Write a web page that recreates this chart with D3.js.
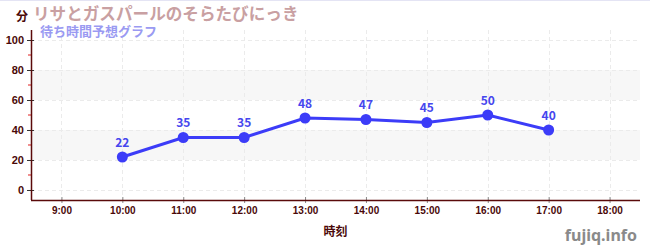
<!DOCTYPE html>
<html>
<head>
<meta charset="utf-8">
<script src="https://cdn.jsdelivr.net/npm/d3@7"></script>
<style>
  body { margin: 0; background: #fff; }
  svg { display: block; font-family: "Noto Sans CJK JP", "Noto Sans", sans-serif; }
</style>
</head>
<body>
<div id="chart"></div>
<script>
// wait-time forecast, one point per hour
const hours = [10, 11, 12, 13, 14, 15, 16, 17];
const waits = [22, 35, 35, 48, 47, 45, 50, 40];
const hourTicks = [9, 10, 11, 12, 13, 14, 15, 16, 17, 18];
const yTicks = [0, 20, 40, 60, 80, 100];
const yMinorTicks = [10, 30, 50, 70, 90];
const bands = [[20, 40], [60, 80]];

const width = 650;
const height = 250;
const margin = { top: 30, right: 10, bottom: 50, left: 31 };

const svg = d3.select("#chart").append("svg")
  .attr("width", width)
  .attr("height", height);

const x = d3.scaleLinear()
  .domain([8.5, 18.5])
  .range([margin.left, width - margin.right]);

const y = d3.scaleLinear()
  .domain([-6.67, 106.67])
  .range([height - margin.bottom, margin.top]);

// thin top border
svg.append("line")
  .attr("x1", 0).attr("x2", width).attr("y1", 0.5).attr("y2", 0.5)
  .attr("stroke", "#e4e4f4");

// shaded bands
svg.append("g").selectAll("rect")
  .data(bands)
  .join("rect")
  .attr("x", margin.left)
  .attr("width", width - margin.right - margin.left)
  .attr("y", (d) => y(d[1]))
  .attr("height", (d) => y(d[0]) - y(d[1]))
  .attr("fill", "#f7f7f7");

// dashed grid
const grid = svg.append("g")
  .attr("stroke", "#ebebeb")
  .attr("stroke-dasharray", "4,3");
grid.selectAll(".gy")
  .data(yTicks)
  .join("line")
  .attr("x1", margin.left).attr("x2", width - margin.right)
  .attr("y1", (d) => y(d) + 0.5).attr("y2", (d) => y(d) + 0.5);
grid.selectAll(".gx")
  .data(hourTicks)
  .join("line")
  .attr("x1", (d) => Math.round(x(d)) + 0.5).attr("x2", (d) => Math.round(x(d)) + 0.5)
  .attr("y1", margin.top).attr("y2", height - margin.bottom);

const axisColor = "#5a0a0a";
const labelColor = "#4a0808";

// y axis
const yAxis = svg.append("g")
  .attr("transform", `translate(${margin.left},0)`)
  .call(d3.axisLeft(y).tickValues(yTicks).tickSize(4).tickPadding(3))
  .call((g) => g.select(".domain").remove());
yAxis.selectAll(".tick line").attr("stroke", "#333").attr("x2", 3).attr("x1", -4);
yAxis.selectAll(".tick text")
  .attr("fill", labelColor)
  .attr("font-size", 11)
  .attr("font-weight", "bold");

svg.append("g")
  .selectAll("line")
  .data(yMinorTicks)
  .join("line")
  .attr("x1", margin.left - 3).attr("x2", margin.left)
  .attr("y1", (d) => y(d)).attr("y2", (d) => y(d))
  .attr("stroke", "#e02020");

// x axis
const xAxis = svg.append("g")
  .attr("transform", `translate(0,${height - margin.bottom})`)
  .call(d3.axisBottom(x).tickValues(hourTicks).tickSize(0).tickPadding(7)
    .tickFormat((d) => `${d}:00`))
  .call((g) => g.select(".domain").remove());
xAxis.selectAll(".tick text")
  .attr("fill", labelColor)
  .attr("font-size", 10)
  .attr("font-weight", "bold");
xAxis.selectAll(".tick").append("line")
  .attr("y1", -3).attr("y2", 3)
  .attr("stroke", "#888");

// axis lines
svg.append("line")
  .attr("x1", margin.left + 0.5).attr("x2", margin.left + 0.5)
  .attr("y1", margin.top).attr("y2", height - margin.bottom)
  .attr("stroke", axisColor).attr("stroke-width", 1.5);
svg.append("line")
  .attr("x1", margin.left).attr("x2", width - margin.right)
  .attr("y1", height - margin.bottom + 0.5).attr("y2", height - margin.bottom + 0.5)
  .attr("stroke", axisColor).attr("stroke-width", 1.5);

// series
const points = hours.map((h, i) => ({ h, v: waits[i] }));
const lineColor = "#3c3cf8";

svg.append("path")
  .datum(points)
  .attr("fill", "none")
  .attr("stroke", lineColor)
  .attr("stroke-width", 3)
  .attr("d", d3.line().x((d) => x(d.h)).y((d) => y(d.v)));

svg.append("g").selectAll("circle")
  .data(points)
  .join("circle")
  .attr("cx", (d) => x(d.h))
  .attr("cy", (d) => y(d.v))
  .attr("r", 5.5)
  .attr("fill", lineColor);

svg.append("g").selectAll("text")
  .data(points)
  .join("text")
  .attr("x", (d) => x(d.h))
  .attr("y", (d) => y(d.v) - 10)
  .attr("text-anchor", "middle")
  .attr("fill", "#4646ee")
  .attr("font-size", 12)
  .attr("font-weight", "bold")
  .text((d) => d.v);

// titles and labels
svg.append("text")
  .attr("x", 33).attr("y", 20)
  .attr("fill", "#c9a0a2")
  .attr("font-size", 16.6)
  .attr("font-weight", "bold")
  .text("リサとガスパールのそらたびにっき");

svg.append("text")
  .attr("x", 40).attr("y", 36)
  .attr("fill", "#9a9af2")
  .attr("font-size", 13)
  .attr("font-weight", "bold")
  .text("待ち時間予想グラフ");

svg.append("text")
  .attr("x", 22).attr("y", 21)
  .attr("text-anchor", "middle")
  .attr("fill", labelColor)
  .attr("font-size", 12)
  .attr("font-weight", "bold")
  .text("分");

svg.append("text")
  .attr("x", x(13.5)).attr("y", 236)
  .attr("text-anchor", "middle")
  .attr("fill", labelColor)
  .attr("font-size", 12)
  .attr("font-weight", "bold")
  .text("時刻");

svg.append("text")
  .attr("x", 637).attr("y", 241)
  .attr("text-anchor", "end")
  .attr("fill", "#8a8a8a")
  .attr("font-size", 16)
  .attr("font-weight", "bold")
  .attr("font-family", "'Noto Sans', sans-serif")
  .text("fujiq.info");
</script>
</body>
</html>
